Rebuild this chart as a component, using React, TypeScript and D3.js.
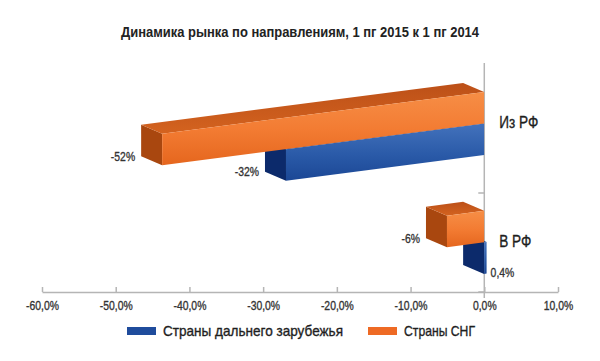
import React, { useRef, useEffect } from "react";
import * as d3 from "d3";

const categories = ["Из РФ", "В РФ"];
const seriesKeys = ["cis", "far"]; // top to bottom inside a group
const seriesNames = ["Страны дальнего зарубежья", "Страны СНГ"];
const farValues = [-0.32, 0.004];
const cisValues = [-0.52, -0.06];
const tickValues = [-0.6, -0.5, -0.4, -0.3, -0.2, -0.1, 0, 0.1];
const title = "Динамика рынка по направлениям, 1 пг 2015 к 1 пг 2014";

const W = 600;
const H = 361;
const FONT = "'Liberation Sans', Arial, sans-serif";

const ru = d3.formatLocale({
  decimal: ",",
  thousands: " ",
  grouping: [3],
  currency: ["", " ₽"],
  minus: "-",
});
const tickFormat = ru.format(".1%");
const labelFormat = ru.format("~%");

const colors = {
  far: { front: "url(#gFar)", side: "#0C2A6B", top: "#1A3F86" },
  cis: { front: "url(#gCis)", side: "#A9470F", top: "url(#gCisTop)" },
};

const App = () => {
  const svgRef = useRef<SVGSVGElement>(null);

  useEffect(() => {
    const svg = d3.select(svgRef.current);
    svg.selectAll("*").remove();

    // gradients
    const defs = svg.append("defs");
    const grad = (id: string, stops: [string, string][]) => {
      const g = defs
        .append("linearGradient")
        .attr("id", id)
        .attr("x1", 0)
        .attr("y1", 0)
        .attr("x2", 0)
        .attr("y2", 1);
      stops.forEach(([o, c]) => g.append("stop").attr("offset", o).attr("stop-color", c));
    };
    grad("gCis", [
      ["0%", "#F68E46"],
      ["50%", "#F37C33"],
      ["100%", "#E5661E"],
    ]);
    grad("gFar", [
      ["0%", "#4372BC"],
      ["55%", "#2A5AA8"],
      ["100%", "#1B4795"],
    ]);
    grad("gCisTop", [
      ["0%", "#BC5018"],
      ["100%", "#D4631F"],
    ]);

    // scales
    const xAxis = d3.scaleLinear().domain([-0.6, 0.1]).range([42, 558]);
    const x0 = xAxis(0) - 1;
    const depthK = 0.84; // front plane sits closer, so it is scaled in
    const xFront = d3
      .scaleLinear()
      .domain(xAxis.domain())
      .range(xAxis.range().map((r) => x0 + depthK * (r - x0)));
    const yRow = d3.scaleBand().domain(categories).range([92, 274]).paddingInner(0.47);
    const ySeries = d3.scaleBand().domain(seriesKeys).range([0, yRow.bandwidth()]);
    const yCat = d3.scaleBand().domain(categories).range([94, 292]);
    const tilt = 0.13;
    const depth = [-21, -9];

    const front = (v: number, y: number) => {
      const px = xFront(v);
      return [px, y + tilt * (x0 - px)];
    };
    const back = (v: number, y: number) => {
      const [px, py] = front(v, y);
      return [px + depth[0], py + depth[1]];
    };
    const poly = (pts: number[][]) => "M" + pts.map((p) => p.join(",")).join("L") + "Z";

    // medium-weight look for the condensed labels
    const heavy = (sel: any, color: string) =>
      sel.attr("fill", color).attr("stroke", color).attr("stroke-width", 0.35);

    // title
    svg
      .append("text")
      .attr("x", W / 2)
      .attr("y", 37)
      .attr("text-anchor", "middle")
      .attr("font-family", FONT)
      .attr("font-weight", "bold")
      .attr("font-size", 15)
      .attr("fill", "#222")
      .attr("textLength", 358)
      .attr("lengthAdjust", "spacingAndGlyphs")
      .text(title);

    // x axis
    const axisY = 292;
    const gx = svg
      .append("g")
      .attr("transform", `translate(0,${axisY})`)
      .call(
        d3
          .axisBottom(xAxis)
          .tickValues(tickValues)
          .tickFormat((d) => tickFormat(d as number))
          .tickSizeInner(-5)
          .tickSizeOuter(0)
          .tickPadding(9)
      );
    gx.select(".domain").attr("stroke", "#B5B5B5").attr("stroke-width", 1.5);
    gx.selectAll(".tick line").attr("stroke", "#B5B5B5").attr("stroke-width", 1.5);
    heavy(
      gx.selectAll(".tick text")
        .attr("font-family", FONT)
        .attr("font-size", 13)
        .attr("transform", "scale(0.8,1)"),
      "#333"
    );

    // vertical category axis
    svg
      .append("line")
      .attr("x1", x0 + 1)
      .attr("x2", x0 + 1)
      .attr("y1", 63)
      .attr("y2", axisY + 6)
      .attr("stroke", "#B5B5B5")
      .attr("stroke-width", 1.5);
    const catTicks = categories.map((c) => yCat(c) as number).concat([yCat.range()[1]]);
    svg
      .append("g")
      .selectAll("line")
      .data(catTicks)
      .join("line")
      .attr("x1", x0 + 1)
      .attr("x2", x0 - 5)
      .attr("y1", (d) => d)
      .attr("y2", (d) => d)
      .attr("stroke", "#B5B5B5")
      .attr("stroke-width", 1.5);

    // bars
    const bars: { cat: string; key: string; v: number }[] = [];
    categories.forEach((c, i) => {
      bars.push({ cat: c, key: "far", v: farValues[i] });
      bars.push({ cat: c, key: "cis", v: cisValues[i] });
    });

    const gBars = svg.append("g");
    bars.forEach((b) => {
      const y0 = (yRow(b.cat) as number) + (ySeries(b.key) as number);
      const y1 = y0 + ySeries.bandwidth();
      const a = Math.min(0, b.v);
      const e = Math.max(0, b.v);
      const col = colors[b.key as "far" | "cis"];
      // left face
      gBars
        .append("path")
        .attr("d", poly([front(a, y0), back(a, y0), back(a, y1), front(a, y1)]))
        .attr("fill", col.side);
      // top face
      gBars
        .append("path")
        .attr("d", poly([front(a, y0), front(e, y0), back(e, y0), back(a, y0)]))
        .attr("fill", col.top);
      // front face
      gBars
        .append("path")
        .attr("d", poly([front(a, y0), front(e, y0), front(e, y1), front(a, y1)]))
        .attr("fill", col.front);
    });

    // data labels
    bars.forEach((b) => {
      const y0 = (yRow(b.cat) as number) + (ySeries(b.key) as number);
      const y1 = y0 + ySeries.bandwidth();
      let lx: number, ly: number, anchor: string;
      if (b.v < 0) {
        const [bx] = back(b.v, y1);
        const [, fy] = front(b.v, y1);
        lx = bx - 6;
        ly = fy - 9;
        anchor = "end";
      } else {
        const [fx, fy] = front(b.v, y1);
        lx = fx + 4;
        ly = fy - 1;
        anchor = "start";
      }
      heavy(
        svg
          .append("text")
          .attr("transform", `translate(${lx},${ly}) scale(0.8,1)`)
          .attr("dy", "0.35em")
          .attr("text-anchor", anchor)
          .attr("font-family", FONT)
          .attr("font-size", 13)
          .text(labelFormat(b.v)),
        "#333"
      );
    });

    // category labels
    categories.forEach((c) => {
      const ym = (yRow(c) as number) + ySeries.bandwidth();
      heavy(
        svg
          .append("text")
          .attr("transform", `translate(${x0 + 16},${ym - 1}) scale(0.8,1)`)
          .attr("dy", "0.35em")
          .attr("font-family", FONT)
          .attr("font-size", 17)
          .text(c),
        "#1E1E1E"
      );
    });

    // legend
    const legend = [
      { name: seriesNames[0], color: "#1F4C9C", x: 127, len: 180 },
      { name: seriesNames[1], color: "#EE6A24", x: 368, len: 71 },
    ];
    const lg = svg.append("g").attr("transform", "translate(0,331)");
    legend.forEach((l) => {
      lg.append("rect").attr("x", l.x).attr("y", -4).attr("width", 29).attr("height", 8).attr("fill", l.color);
      heavy(
        lg
          .append("text")
          .attr("x", l.x + 36)
          .attr("dy", "0.35em")
          .attr("font-family", FONT)
          .attr("font-size", 15)
          .attr("textLength", l.len)
          .attr("lengthAdjust", "spacingAndGlyphs")
          .text(l.name),
        "#1E1E1E"
      );
    });

    return () => {
      svg.selectAll("*").remove();
    };
  }, []);

  return (
    <svg
      ref={svgRef}
      width={W}
      height={H}
      style={{ position: "absolute", left: 0, top: 0, background: "#fff" }}
    />
  );
};

export default App;
